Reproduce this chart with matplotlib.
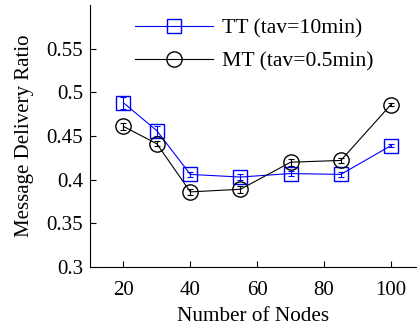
import matplotlib
matplotlib.use("Agg")
import matplotlib.pyplot as plt

plt.rcParams["font.family"] = ["Liberation Serif", "DejaVu Serif"]

# Delivery ratio vs network size, mean and error per setting
nodes = [20, 30, 40, 55, 70, 85, 100]
tt_ratio = [0.488, 0.456, 0.406, 0.403, 0.407, 0.406, 0.439]
tt_err = [0.007, 0.006, 0.003, 0.003, 0.003, 0.003, 0.002]
mt_ratio = [0.461, 0.441, 0.386, 0.389, 0.420, 0.422, 0.486]
mt_err = [0.004, 0.003, 0.003, 0.004, 0.004, 0.003, 0.002]

fig = plt.figure(figsize=(4.17, 3.26), dpi=100)
ax = fig.add_axes([0.2158, 0.181, 0.782, 0.8037])

ax.plot(nodes, tt_ratio, color="#0000ff", lw=0.8, marker="s", ms=9.5,
        mfc="none", mec="#0000ff", mew=1.0, label="TT (tav=10min)")
ax.errorbar(nodes, tt_ratio, yerr=tt_err, fmt="none", ecolor="#0000ff",
            elinewidth=0.8, capsize=2, capthick=0.8)
ax.plot(nodes, mt_ratio, color="black", lw=0.8, marker="o", ms=11,
        mfc="none", mec="black", mew=1.0, label="MT (tav=0.5min)")
ax.errorbar(nodes, mt_ratio, yerr=mt_err, fmt="none", ecolor="black",
            elinewidth=0.8, capsize=2, capthick=0.8)

ax.set_xlim(10, 107.5)
ax.set_ylim(0.3, 0.6)
ax.set_xticks([20, 40, 60, 80, 100])
ax.set_yticks([0.3, 0.35, 0.4, 0.45, 0.5, 0.55])
ax.set_yticklabels(["0.3", "0.35", "0.4", "0.45", "0.5", "0.55"])
ax.tick_params(direction="in", length=4, width=0.8, labelsize=15)
ax.tick_params(axis="x", pad=10)
ax.tick_params(axis="y", pad=5)
ax.spines["top"].set_visible(False)
ax.spines["right"].set_visible(False)

ax.set_xlabel("Number of Nodes", fontsize=15.3, labelpad=5)
ax.set_ylabel("Message Delivery Ratio", fontsize=15, labelpad=9)

ax.legend(loc="upper left", bbox_to_anchor=(0.138, 0.95), frameon=False,
          fontsize=15.6, handlelength=3.6, handletextpad=0.42,
          labelspacing=0.6, borderpad=0, borderaxespad=0)

fig.savefig("out.png", dpi=100)
